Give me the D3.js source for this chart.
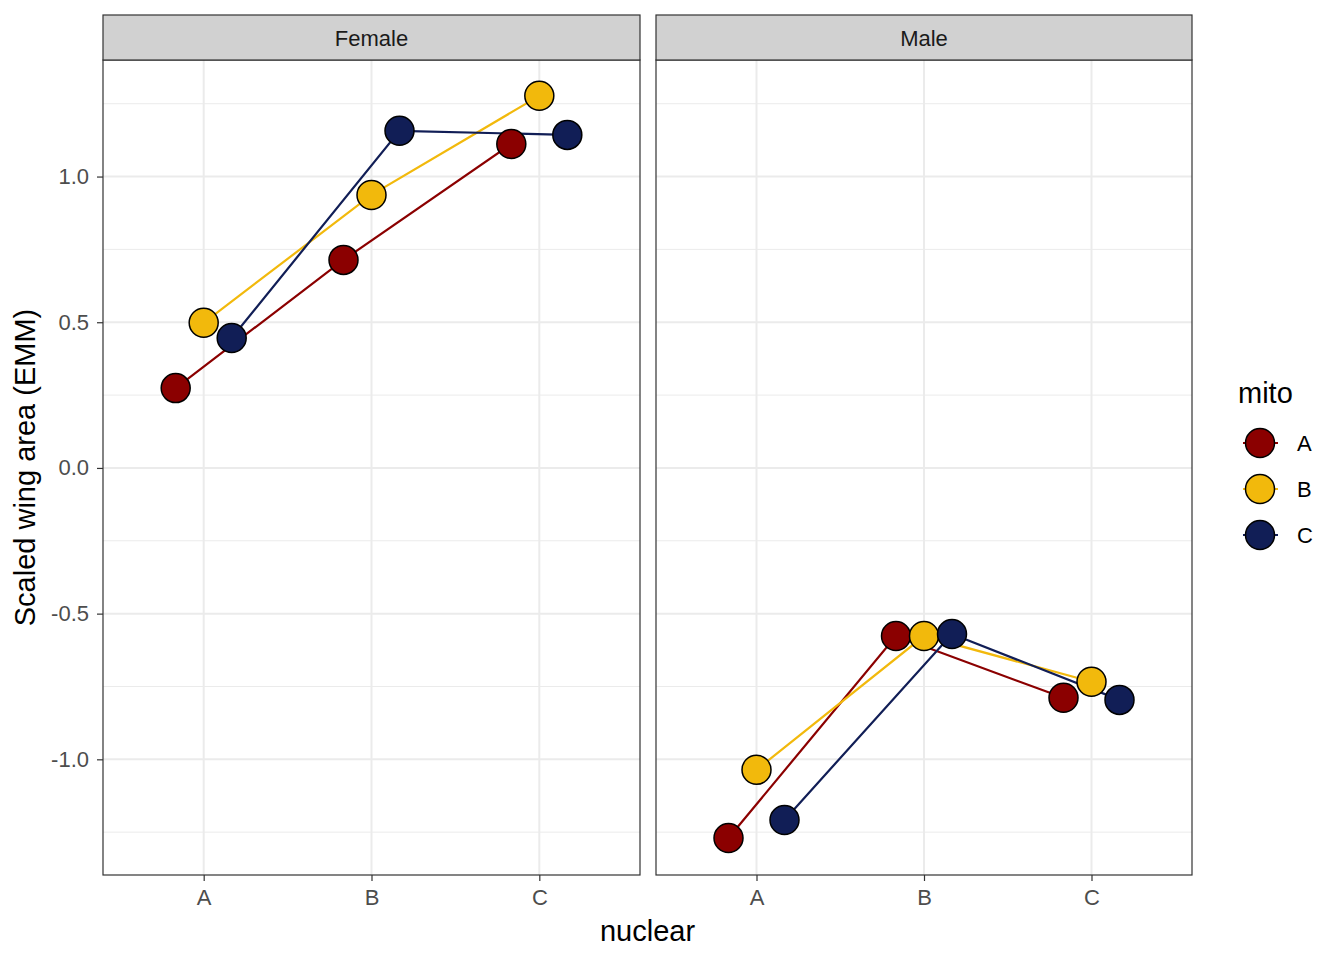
<!DOCTYPE html>
<html>
<head>
<meta charset="utf-8">
<script src="https://cdn.jsdelivr.net/npm/d3@7"></script>
<style>
  body { margin: 0; background: #fff; }
  text { font-family: "Liberation Sans", Arial, sans-serif; }
</style>
</head>
<body>
<div id="chart"></div>
<script>
// data
const sexes = ['Female', 'Male'];
const nuclear = ['A', 'B', 'C'];
const mito = ['A', 'B', 'C'];
const mitoColours = ['#8B0000', '#F2B90C', '#111E56'];
const yTicks = [-1.0, -0.5, 0.0, 0.5, 1.0];

// EMM values per sex, per mito line, across nuclear A,B,C
const femaleA = [0.274, 0.714, 1.112];
const femaleB = [0.498, 0.937, 1.277];
const femaleC = [0.446, 1.157, 1.143];
const maleA = [-1.270, -0.577, -0.789];
const maleB = [-1.036, -0.577, -0.734];
const maleC = [-1.208, -0.570, -0.796];

const emm = {
  Female: [femaleA, femaleB, femaleC],
  Male: [maleA, maleB, maleC]
};

const width = 1344, height = 960;
const panelTop = 60, panelBottom = 875;
const panels = [{ x0: 103, x1: 640 }, { x0: 656, x1: 1192 }];
const dodge = 28;
const tickFont = 22;

const svg = d3.select('#chart').append('svg')
  .attr('width', width).attr('height', height);

const y = d3.scaleLinear().domain([-1.397, 1.400]).range([panelBottom, panelTop]);
const mitoOffset = d3.scalePoint().domain(mito).range([-dodge, dodge]);
const colour = d3.scaleOrdinal().domain(mito).range(mitoColours);

// minor gridlines halfway between majors
const minorTicks = [-1.25, -0.75, -0.25, 0.25, 0.75, 1.25];

sexes.forEach((sex, i) => {
  const p = panels[i];
  // ggplot discrete expansion: 0.6 of a step on each side
  const x = d3.scalePoint().domain(nuclear).range([p.x0, p.x1]).padding(0.6);
  const g = svg.append('g');

  // grid
  g.selectAll('.minor').data(minorTicks).enter().append('line')
    .attr('x1', p.x0).attr('x2', p.x1)
    .attr('y1', d => y(d)).attr('y2', d => y(d))
    .attr('stroke', '#EBEBEB').attr('stroke-width', 1);
  g.selectAll('.major').data(yTicks).enter().append('line')
    .attr('x1', p.x0).attr('x2', p.x1)
    .attr('y1', d => y(d)).attr('y2', d => y(d))
    .attr('stroke', '#EBEBEB').attr('stroke-width', 2);
  g.selectAll('.vmajor').data(nuclear).enter().append('line')
    .attr('x1', d => x(d)).attr('x2', d => x(d))
    .attr('y1', panelTop).attr('y2', panelBottom)
    .attr('stroke', '#EBEBEB').attr('stroke-width', 2);

  // lines + points
  const series = mito.map((m, k) => ({
    mito: m,
    pts: nuclear.map((n, j) => ({ x: x(n) + mitoOffset(m), y: y(emm[sex][k][j]) }))
  }));

  const line = d3.line().x(d => d.x).y(d => d.y);
  g.selectAll('.ser').data(series).enter().append('path')
    .attr('d', d => line(d.pts))
    .attr('fill', 'none')
    .attr('stroke', d => colour(d.mito))
    .attr('stroke-width', 2.2);

  series.forEach(s => {
    g.selectAll(null).data(s.pts).enter().append('circle')
      .attr('cx', d => d.x).attr('cy', d => d.y).attr('r', 14.5)
      .attr('fill', colour(s.mito))
      .attr('stroke', '#000').attr('stroke-width', 1.5);
  });

  // panel border
  g.append('rect')
    .attr('x', p.x0).attr('y', panelTop)
    .attr('width', p.x1 - p.x0).attr('height', panelBottom - panelTop)
    .attr('fill', 'none').attr('stroke', '#333').attr('stroke-width', 1.2);

  // strip
  g.append('rect')
    .attr('x', p.x0).attr('y', 15)
    .attr('width', p.x1 - p.x0).attr('height', panelTop - 15)
    .attr('fill', '#D1D1D1').attr('stroke', '#333').attr('stroke-width', 1.2);
  g.append('text')
    .attr('x', (p.x0 + p.x1) / 2).attr('y', 38)
    .attr('dy', '0.35em').attr('text-anchor', 'middle')
    .attr('font-size', tickFont).attr('fill', '#1A1A1A')
    .text(sex);

  // x axis
  const xAxis = g.append('g')
    .attr('transform', `translate(0,${panelBottom})`)
    .call(d3.axisBottom(x).tickSize(6).tickSizeOuter(0).tickPadding(8));
  xAxis.select('.domain').remove();
  xAxis.selectAll('line').attr('stroke', '#333').attr('stroke-width', 1.2);
  xAxis.selectAll('text').attr('font-size', tickFont).attr('fill', '#4D4D4D')
    .attr('font-family', '"Liberation Sans", Arial, sans-serif');

  if (i === 0) {
    const yAxis = g.append('g')
      .attr('transform', `translate(${p.x0},0)`)
      .call(d3.axisLeft(y).tickValues(yTicks).tickSize(6).tickSizeOuter(0).tickPadding(8));
    yAxis.select('.domain').remove();
    yAxis.selectAll('line').attr('stroke', '#333').attr('stroke-width', 1.2);
    yAxis.selectAll('text').attr('font-size', tickFont).attr('fill', '#4D4D4D')
      .attr('font-family', '"Liberation Sans", Arial, sans-serif')
      .text(d => d3.format('.1f')(d).replace('−', '-'));
  }
});

// axis titles
svg.append('text')
  .attr('x', (panels[0].x0 + panels[1].x1) / 2).attr('y', 931)
  .attr('dy', '0.35em').attr('text-anchor', 'middle')
  .attr('font-size', 29).attr('fill', '#000')
  .text('nuclear');
svg.append('text')
  .attr('transform', `translate(25,${(panelTop + panelBottom) / 2}) rotate(-90)`)
  .attr('dy', '0.35em').attr('text-anchor', 'middle')
  .attr('font-size', 29).attr('fill', '#000')
  .text('Scaled wing area (EMM)');

// legend
const legend = svg.append('g').attr('transform', 'translate(1238,0)');
legend.append('text')
  .attr('x', 0).attr('y', 393).attr('dy', '0.35em')
  .attr('font-size', 29).attr('fill', '#000')
  .text('mito');
const keys = legend.selectAll('.key').data(mito).enter().append('g')
  .attr('transform', (d, k) => `translate(0,${443 + k * 46})`);
keys.append('line')
  .attr('x1', 5).attr('x2', 40).attr('y1', 0).attr('y2', 0)
  .attr('stroke', d => colour(d)).attr('stroke-width', 2.2);
keys.append('circle')
  .attr('cx', 22).attr('cy', 0).attr('r', 14.5)
  .attr('fill', d => colour(d)).attr('stroke', '#000').attr('stroke-width', 1.5);
keys.append('text')
  .attr('x', 59).attr('y', 0).attr('dy', '0.35em')
  .attr('font-size', tickFont).attr('fill', '#000')
  .text(d => d);
</script>
</body>
</html>
